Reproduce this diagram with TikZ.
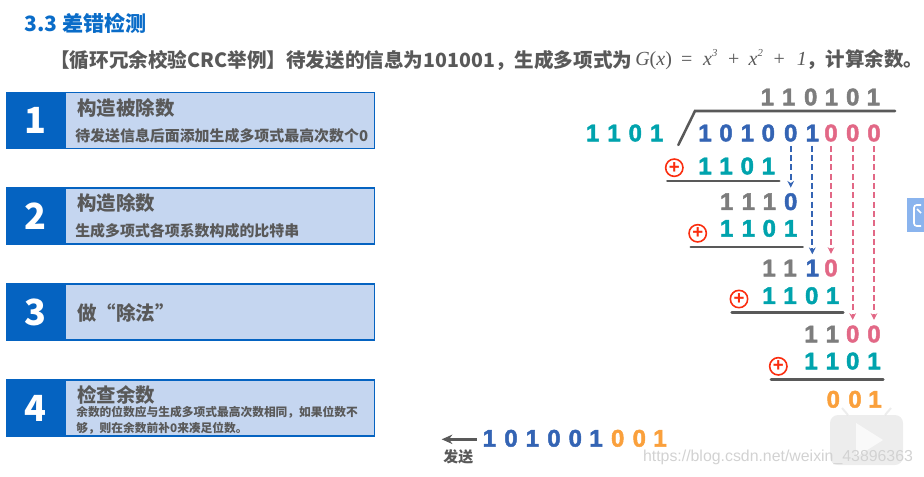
\documentclass[tikz,border=0pt]{standalone}
\usepackage{fontspec}
\usepackage{xcolor}
\usetikzlibrary{arrows.meta,positioning}
\setmainfont{Noto Sans CJK SC}
\newfontfamily\bitfont[FakeBold=2]{Liberation Sans}
\newfontfamily\markfont{Liberation Sans}
\newfontfamily\formulafont{Liberation Serif}
\definecolor{HeadBlue}{RGB}{10,108,200}
\definecolor{NumBlue}{RGB}{5,99,193}
\definecolor{BoxFill}{RGB}{197,214,240}
\definecolor{TextGray}{RGB}{89,89,89}
\definecolor{BitBlue}{RGB}{52,100,180}
\definecolor{BitTeal}{RGB}{0,163,173}
\definecolor{BitPink}{RGB}{226,104,134}
\definecolor{BitGray}{RGB}{125,125,125}
\definecolor{BitOrange}{RGB}{250,160,60}
\definecolor{XorRed}{RGB}{250,45,15}
\definecolor{SideBlue}{RGB}{138,180,238}

\begin{document}
\begin{tikzpicture}[x=0.75pt,y=-0.75pt,
    txtblk/.style={draw=NumBlue,line width=1.3pt,fill=BoxFill,anchor=north west,
                   minimum width=276pt,minimum height=42pt,inner sep=0pt},
    numblk/.style={fill=NumBlue,anchor=north west,minimum width=45pt,minimum height=43pt,
                   inner sep=0pt,text=white,font=\fontsize{27}{27}\selectfont\bfseries},
    title/.style={anchor=west,inner sep=0pt,text=TextGray,font=\fontsize{14.6}{16}\selectfont\bfseries},
    sub/.style={anchor=west,inner sep=0pt,text=TextGray,font=\fontsize{11.2}{13}\selectfont\bfseries},
    bit/.style={inner sep=0pt,font=\bitfont\fontsize{18}{18}\selectfont\bfseries},
    sumline/.style={line width=1.9pt,TextGray,line cap=round},
    xorsign/.style={circle,draw=XorRed,line width=1.2pt,text=XorRed,minimum size=13pt,inner sep=0pt,
                    font=\markfont\fontsize{14}{14}\selectfont\bfseries},
    carry/.style={-{Stealth[length=5pt,width=5pt]},line width=1.5pt,dash pattern=on 4.5pt off 2.5pt,
                  shorten <=3pt,shorten >=4pt}]

    \useasboundingbox (0,0) rectangle (924,476);

    % heading
    \node[anchor=west,inner sep=0pt,text=HeadBlue,font=\fontsize{15.8}{18}\selectfont\bfseries] (head) at (24,23)
      {3.3 差错检测};
    \node[anchor=west,inner sep=0pt,text=TextGray,font=\fontsize{14.7}{18}\selectfont\bfseries] (task) at (50,60)
      {【循环冗余校验CRC举例】待发送的信息为101001，生成多项式为};
    \node[anchor=west,inner sep=0pt,text=TextGray,font=\formulafont\fontsize{15}{18}\selectfont] (formula) at (635,60)
      {\textit{G}(\textit{x})\hspace{7pt}=\hspace{8pt}\textit{x}\raisebox{1ex}{\fontsize{8}{8}\selectfont\textit{3}}\hspace{8pt}+\hspace{7pt}\textit{x}\raisebox{1ex}{\fontsize{8}{8}\selectfont\textit{2}}\hspace{8pt}+\hspace{9pt}\textit{1}};
    \node[anchor=east,inner sep=0pt,text=TextGray,font=\fontsize{14.6}{18}\selectfont\bfseries] (tail) at (923.5,60)
      {，计算余数。};

    % four steps
    \foreach \n/\y in {1/91.7,2/187.3,3/283.3,4/379.3} {
      \node[txtblk] (box\n) at (5.5,\y) {};
      \node[numblk] (num\n) at (box\n.north west) {\n};
    }
    \node[title] (t1) at (77,108) {构造被除数};
    \node[sub] (s1) at (75,135.7) {待发送信息后面添加生成多项式最高次数个0};
    \node[title] (t2) at (77,203.5) {构造除数};
    \node[sub] (s2) at (75,231) {生成多项式各项系数构成的比特串};
    \node[title] (t3) at (77,313) {做“除法”};
    \node[title] (t4) at (77,395) {检查余数};
    \node[sub,font=\fontsize{8.8}{11.7}\selectfont\bfseries,align=left] (s4) at (76,420.5)
      {余数的位数应与生成多项式最高次数相同，如果位数不\\够，则在余数前补0来凑足位数。};

    % long division
    \foreach \b/\x [count=\i] in {1/767.3,1/788.7,0/810.7,1/831.3,0/852.7,1/873.3} {
      \node[bit,text=BitGray] (q\i) at (\x,97) {\b};
    }
    \foreach \b/\x [count=\i] in {1/592.7,1/614,0/635.3,1/656.7} {
      \node[bit,text=BitTeal] (g\i) at (\x,133) {\b};
    }
    \foreach \b/\x/\c [count=\i] in {1/705/BitBlue,0/726/BitBlue,1/747.3/BitBlue,0/768.3/BitBlue,0/790.7/BitBlue,
        1/812.3/BitBlue,0/831/BitPink,0/852.7/BitPink,0/874/BitPink} {
      \node[bit,text=\c] (d\i) at (\x,133) {\b};
    }
    \coordinate (slashL) at (678.3,145);
    \coordinate (slashT) at (695,111);
    \coordinate (slashR) at (895,111);
    \draw[sumline] (slashL) -- (slashT) -- (slashR);

    \node[xorsign] (x1) at (674.3,167.7) {+};
    \foreach \b/\x [count=\i] in {1/705,1/726,0/747.3,1/768.3} {
      \node[bit,text=BitTeal] (a\i) at (\x,166) {\b};
    }
    \coordinate (l1a) at (667.3,181);
    \coordinate (l1b) at (779.3,181);
    \draw[sumline] (l1a) -- (l1b);

    \foreach \b/\x/\c [count=\i] in {1/726.7/BitGray,1/748.3/BitGray,1/769.3/BitGray,0/790.7/BitBlue} {
      \node[bit,text=\c] (r\i) at (\x,201.7) {\b};
    }
    \node[xorsign] (x2) at (697.7,233.3) {+};
    \foreach \b/\x [count=\i] in {1/726.7,1/748.3,0/769.3,1/790.7} {
      \node[bit,text=BitTeal] (b\i) at (\x,228.3) {\b};
    }
    \coordinate (l2a) at (690.7,247);
    \coordinate (l2b) at (802.7,247);
    \draw[sumline] (l2a) -- (l2b);

    \foreach \b/\x/\c [count=\i] in {1/769/BitGray,1/790/BitGray,1/812.3/BitBlue,0/831/BitPink} {
      \node[bit,text=\c] (u\i) at (\x,268) {\b};
    }
    \node[xorsign] (x3) at (739,299) {+};
    \foreach \b/\x [count=\i] in {1/769,1/790,0/811.7,1/832.7} {
      \node[bit,text=BitTeal] (c\i) at (\x,295.7) {\b};
    }
    \coordinate (l3a) at (731.7,312.3);
    \coordinate (l3b) at (843.3,312.3);
    \draw[sumline] (l3a) -- (l3b);

    \foreach \b/\x/\c [count=\i] in {1/811/BitGray,1/832.3/BitGray,0/852.7/BitPink,0/874/BitPink} {
      \node[bit,text=\c] (v\i) at (\x,334) {\b};
    }
    \node[xorsign] (x4) at (778.3,366.3) {+};
    \foreach \b/\x [count=\i] in {1/811,1/832.3,0/852.7,1/874} {
      \node[bit,text=BitTeal] (e\i) at (\x,361) {\b};
    }
    \coordinate (l4a) at (771,379.7);
    \coordinate (l4b) at (883.3,379.7);
    \draw[sumline] (l4a) -- (l4b);

    \foreach \b/\x [count=\i] in {0/833.3,0/855,1/875} {
      \node[bit,text=BitOrange] (w\i) at (\x,399.3) {\b};
    }

    % bits carried down
    \draw[carry,BitBlue] (d5) -- (r4);
    \draw[carry,BitBlue] (d6) -- (u3);
    \draw[carry,BitPink] (d7) -- (u4);
    \draw[carry,BitPink] (d8) -- (v3);
    \draw[carry,BitPink] (d9) -- (v4);

    % codeword sent
    \foreach \b/\x/\c [count=\i] in {1/489.3/BitBlue,0/511/BitBlue,1/532.3/BitBlue,0/554/BitBlue,0/575.3/BitBlue,
        1/596/BitBlue,0/617.7/BitOrange,0/639.3/BitOrange,1/660/BitOrange} {
      \node[bit,text=\c] (s\i) at (\x,438.3) {\b};
    }
    \coordinate (sendR) at (476.7,439.3);
    \coordinate (sendL) at (441.7,439.3);
    \draw[-{Stealth[length=8pt,width=7pt]},line width=1.9pt,TextGray] (sendR) -- (sendL);
    \node[inner sep=0pt,text=TextGray,font=\fontsize{11.2}{13}\selectfont\bfseries] (send) at (458.3,456.7) {发送};

    % page furniture
    \fill[SideBlue] (907,198) rectangle (924,232);
    \draw[white,line width=1.2pt,rounded corners=2pt] (921,205) -- (914,205) -- (914,226) -- (921,226);
    \draw[white,line width=1.2pt] (917,209) -- (921,213);
    \fill[gray!35,opacity=0.4,rounded corners=6pt] (830,415) rectangle (903,465);
    \fill[white,opacity=0.7] (856,423) -- (856,457) -- (883,440) -- cycle;
    \draw[gray!35,opacity=0.4,line width=1.5pt] (848,415) -- (842,408) (885,415) -- (891,408);
    \node[inner sep=0pt,text=gray!35,font=\markfont\fontsize{11.9}{14}\selectfont] (mark) at (778,457)
      {https://blog.csdn.net/weixin\_43896363};
\end{tikzpicture}
\end{document}
